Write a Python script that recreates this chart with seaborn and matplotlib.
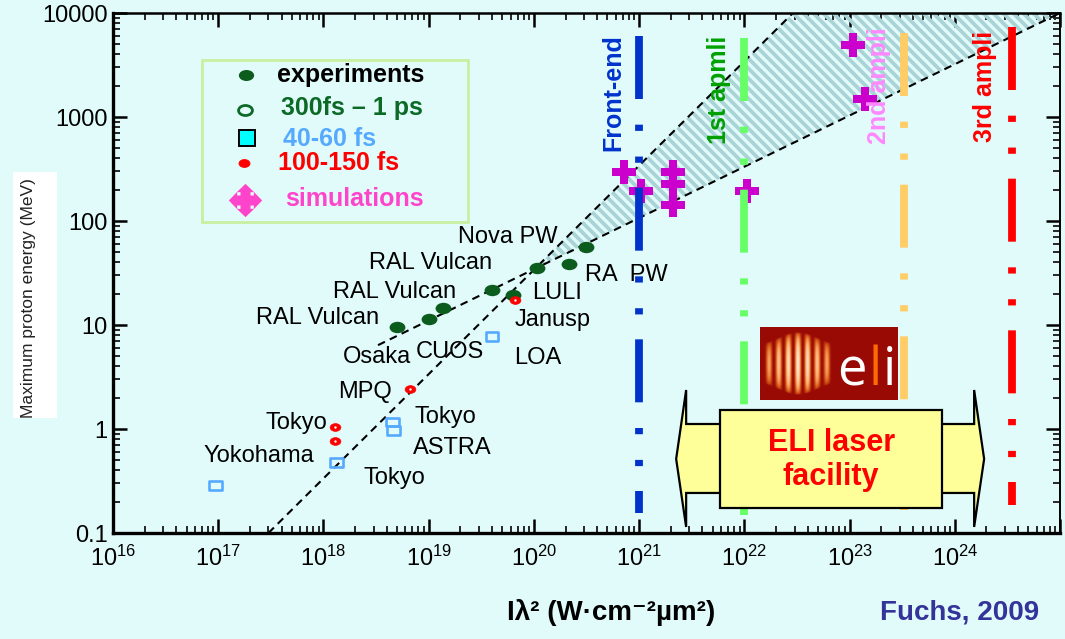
import numpy as np
import matplotlib
matplotlib.use("Agg")
import matplotlib.pyplot as plt
import seaborn as sns
from matplotlib.path import Path
from matplotlib.patches import Polygon, Rectangle
from matplotlib.collections import LineCollection
from matplotlib.colors import LinearSegmentedColormap
from matplotlib.ticker import FixedLocator, FixedFormatter, LogLocator, NullFormatter

# ---------------- data ----------------
# experiments (300 fs - 1 ps)
exp_I = [5.0e18, 1.01e19, 1.38e19, 4.0e19, 6.3e19, 1.07e20, 2.14e20, 3.16e20]
exp_E = [9.6, 11.5, 14.7, 21.7, 19.5, 35.0, 39.0, 56.0]
# 100-150 fs
fs100_I = [6.6e19, 6.6e18, 1.29e18, 1.29e18]
fs100_E = [17.4, 2.4, 1.05, 0.77]
# 40-60 fs
fs40_I = [4.0e19, 4.5e18, 4.6e18, 1.32e18, 9.5e16]
fs40_E = [7.7, 1.17, 0.96, 0.48, 0.285]
# simulations
sim_I = [7.2e20, 1.04e21, 2.1e21, 2.1e21, 2.1e21, 1.06e22, 1.07e23, 1.41e23]
sim_E = [296, 195, 296, 227, 143, 195, 4920, 1480]

# scaling lines (end points)
steep_I = [3.0e17, 2.9e22]
steep_E = [0.1, 1.0e4]
gentle_I = [3.3e18, 1.0e25]
gentle_E = [6.4, 1.0e4]

# laser stages
amp_labels = ["Front-end", "1st apmli", "2nd ampli", "3rd ampli"]
amp_I = [1e21, 1e22, 3.3e23, 3.5e24]
amp_top = [6000, 5750, 6400, 7300]
amp_bottom = [0.156, 0.149, 0.166, 0.186]
amp_line_colors = ["#0033CC", "#66FF66", "#FFCC66", "#FF0000"]
amp_text_colors = ["#0033CC", "#00A000", "#FF88FF", "#FF0000"]
amp_text_I = [5.66e20, 5.75e21, 1.9e23, 1.95e24]
amp_text_E = [1700, 1820, 2000, 1950]

# facility names
site_names = ["Nova PW", "RAL Vulcan", "RAL Vulcan", "RAL Vulcan", "RA  PW", "LULI",
              "Janusp", "Osaka", "CUOS", "LOA", "MPQ", "Tokyo", "ASTRA", "Tokyo",
              "Yokohama", "Tokyo"]
site_I = [1.9e19, 2.7e18, 1.23e18, 2.29e17, 3.07e20, 9.6e19, 6.6e19, 1.53e18,
          7.6e18, 6.5e19, 1.38e18, 7.3e18, 7.1e18, 2.84e17, 7.2e16, 2.4e18]
site_E = [70, 39.5, 20.7, 11.7, 30.3, 20.3, 11.2, 4.9, 5.5, 4.8, 2.27, 1.30,
          0.656, 1.14, 0.55, 0.338]

xticks = [1e16, 1e17, 1e18, 1e19, 1e20, 1e21, 1e22, 1e23, 1e24, 1e25]
xtick_labels = [r"$10^{16}$", r"$10^{17}$", r"$10^{18}$", r"$10^{19}$", r"$10^{20}$",
                r"$10^{21}$", r"$10^{22}$", r"$10^{23}$", r"$10^{24}$", ""]
yticks = [0.1, 1, 10, 100, 1000, 10000]
ytick_labels = ["0.1", "1", "10", "100", "1000", "10000"]

# ---------------- style ----------------
BG = "#E1FBFB"
sns.set_theme(style="ticks")
plt.rcParams["font.family"] = ["Liberation Sans", "DejaVu Sans"]
plt.rcParams["mathtext.default"] = "regular"
plt.rcParams["axes.unicode_minus"] = False

fig = plt.figure(figsize=(10.65, 6.39), dpi=100, facecolor=BG)
ax = fig.add_axes([113 / 1065, 1 - 533 / 639, 947 / 1065, 520 / 639])
ax.set_facecolor(BG)
ax.set_xscale("log")
ax.set_yscale("log")
ax.set_xlim(1e16, 1e25)
ax.set_ylim(0.1, 1e4)

# marker shapes
circ = Path.unit_circle()
ellipse = Path(circ.vertices * np.array([1.0, 0.72]), circ.codes)
wide_rect = Path([(-1, -0.68), (1, -0.68), (1, 0.68), (-1, 0.68), (-1, -0.68)],
                 [Path.MOVETO, Path.LINETO, Path.LINETO, Path.LINETO, Path.CLOSEPOLY])


def four_arrow(w=0.6, hw=1.04, hl=0.5):
    arm = np.array([(w / 2, w / 2), (w / 2, 1 - hl), (hw / 2, 1 - hl), (0, 1),
                    (-hw / 2, 1 - hl), (-w / 2, 1 - hl)])
    pts = []
    for k in range(4):
        a = k * np.pi / 2
        rot = np.array([[np.cos(a), -np.sin(a)], [np.sin(a), np.cos(a)]])
        pts.extend(arm @ rot.T)
    pts.append(pts[0])
    codes = [Path.MOVETO] + [Path.LINETO] * (len(pts) - 2) + [Path.CLOSEPOLY]
    return Path(pts, codes)


arrow4 = four_arrow()

# ---------------- hatched band between the two scalings ----------------
ls_a = np.polyfit(np.log10(steep_I), np.log10(steep_E), 1)
lg_a = np.polyfit(np.log10(gentle_I), np.log10(gentle_E), 1)
x_cross = (lg_a[1] - ls_a[1]) / (ls_a[0] - lg_a[0])
y_cross = ls_a[0] * x_cross + ls_a[1]
band = Polygon([(10 ** x_cross, 10 ** y_cross), (steep_I[1], steep_E[1]),
                (gentle_I[1], gentle_E[1])], closed=True, facecolor="none",
               edgecolor="none", transform=ax.transData)
ax.add_patch(band)
pos = ax.get_position()
W = pos.width * fig.get_figwidth() * fig.dpi
H = pos.height * fig.get_figheight() * fig.dpi
segs = [[(x0 / W, 1.0), ((x0 + H) / W, 0.0)] for x0 in np.arange(-H, W, 10.0)]
stripes = LineCollection(segs, transform=ax.transAxes, colors="#A9D3D6",
                         linewidths=2.7, zorder=1)
stripes.set_clip_path(band)
ax.add_collection(stripes)

# scaling lines
for xs, ys in [(steep_I, steep_E), (gentle_I, gentle_E)]:
    ax.plot(xs, ys, color="black", lw=1.5, dashes=(3.7, 2.6), zorder=2)

# simulations
sns.scatterplot(x=sim_I, y=sim_E, marker="P", s=300, color="#CC00CC",
                edgecolor="#CC00CC", linewidth=0, ax=ax, zorder=3)

# laser stage lines
for xi, y0, y1, c in zip(amp_I, amp_top, amp_bottom, amp_line_colors):
    ax.plot([xi, xi], [y0, y1], color=c, lw=5.6,
            dashes=(8.1, 3.3, 0.8, 3.3, 0.8, 3.2), dash_capstyle="butt", zorder=4)
for lab, xi, yi, c in zip(amp_labels, amp_text_I, amp_text_E, amp_text_colors):
    ax.text(xi, yi, lab, rotation=90, ha="center", va="center", color=c,
            fontsize=18, fontweight="bold", zorder=6)

# measured points
sns.scatterplot(x=exp_I, y=exp_E, marker=ellipse, s=130, color="#0C5C1E",
                edgecolor="#0C5C1E", linewidth=0, ax=ax, zorder=5)
sns.scatterplot(x=fs40_I, y=fs40_E, marker=wide_rect, s=85, color="#55AAFF",
                facecolors="none", edgecolor="#55AAFF", linewidth=1.9, ax=ax, zorder=5)
sns.scatterplot(x=fs100_I, y=fs100_E, marker=ellipse, s=60, color="#FF0000",
                edgecolor="#FF0000", linewidth=0.5, ax=ax, zorder=5)
sns.scatterplot(x=fs100_I, y=fs100_E, marker="o", s=3, color="white",
                edgecolor="white", linewidth=0, ax=ax, zorder=5.5)

for name, xi, yi in zip(site_names, site_I, site_E):
    ax.text(xi, yi, name, ha="left", va="center", fontsize=17, color="black", zorder=6)

# ---------------- axes cosmetics ----------------
ax.xaxis.set_major_locator(FixedLocator(xticks))
ax.xaxis.set_major_formatter(FixedFormatter(xtick_labels))
ax.yaxis.set_major_locator(FixedLocator(yticks))
ax.yaxis.set_major_formatter(FixedFormatter(ytick_labels))
ax.xaxis.set_minor_locator(LogLocator(base=10, subs=np.arange(2, 10), numticks=20))
ax.yaxis.set_minor_locator(LogLocator(base=10, subs=np.arange(2, 10), numticks=20))
ax.xaxis.set_minor_formatter(NullFormatter())
ax.yaxis.set_minor_formatter(NullFormatter())
ax.tick_params(which="major", direction="in", length=10, width=1.8, top=True,
               right=True, labelsize=17, colors="black")
ax.tick_params(which="minor", direction="in", length=5, width=1.4, top=True, right=True)
ax.tick_params(axis="x", which="major", pad=9)
ax.tick_params(axis="y", which="major", pad=4)
for side, lw in [("left", 2.4), ("bottom", 2.4), ("top", 1.8), ("right", 1.4)]:
    ax.spines[side].set_visible(True)
    ax.spines[side].set_linewidth(lw)
    ax.spines[side].set_color("black")
ax.set_xlabel("")
ax.set_ylabel("")
ax.grid(False)

# ---------------- legend panel ----------------
ax.add_patch(Rectangle((0.094, 0.598), 0.281, 0.3115, transform=ax.transAxes,
                       facecolor=BG, edgecolor="#C8F0A0", lw=2, zorder=7))
legend_rows = [
    dict(marker=ellipse, ms=11, mfc="#0C5C1E", mec="#0C5C1E", mew=0,
         text="experiments", tc="black", my=0.8808, ty=0.8808, mx=0.1404, tx=0.1732),
    dict(marker=ellipse, ms=10, mfc="none", mec="#0C6A26", mew=2.0,
         text="300fs \u2013 1 ps", tc="#0C6A26", my=0.8135, ty=0.8165, mx=0.1394, tx=0.1774),
    dict(marker="s", ms=11, mfc="#00FFFF", mec="black", mew=1.4,
         text="40-60 fs", tc="#55AAFF", my=0.7596, ty=0.7570, mx=0.1415, tx=0.1795),
    dict(marker=ellipse, ms=8, mfc="#FF0000", mec="#FF0000", mew=0.5,
         text="100-150 fs", tc="#FF0000", my=0.7115, ty=0.7110, mx=0.1383, tx=0.1742),
    dict(marker=arrow4, ms=24, mfc="#FF44CC", mec="#FF44CC", mew=0,
         text="simulations", tc="#FF44CC", my=0.6404, ty=0.6423, mx=0.1394, tx=0.1816),
]
for r in legend_rows:
    ax.plot([r["mx"]], [r["my"]], transform=ax.transAxes, ls="none", marker=r["marker"],
            ms=r["ms"], mfc=r["mfc"], mec=r["mec"], mew=r["mew"], zorder=8, clip_on=False)
    ax.text(r["tx"], r["ty"], r["text"], transform=ax.transAxes, ha="left", va="center",
            fontsize=18, fontweight="bold", color=r["tc"], zorder=8)

# ---------------- ELI facility arrow ----------------
arrow_log = [(21.352, -0.288), (21.447, 0.375), (21.447, 0.048), (24.184, 0.048),
             (24.184, 0.375), (24.279, -0.288), (24.184, -0.942), (24.184, -0.615),
             (21.447, -0.615), (21.447, -0.942)]
ax.add_patch(Polygon([(10 ** a, 10 ** b) for a, b in arrow_log], closed=True,
                     facecolor="#FFFF99", edgecolor="black", lw=1.6, zorder=9))
box_log = [(21.770, 0.183), (23.880, 0.183), (23.880, -0.760), (21.770, -0.760)]
ax.add_patch(Polygon([(10 ** a, 10 ** b) for a, b in box_log], closed=True,
                     facecolor="#FFFF99", edgecolor="black", lw=1.6, zorder=10))
ax.text(10 ** 22.825, 10 ** -0.298, "ELI laser\nfacility", ha="center", va="center",
        fontsize=22, fontweight="bold", color="#FF0000", linespacing=1.2, zorder=11)

# ---------------- ELI logo ----------------
logo = fig.add_axes([760 / 1065, 1 - 400 / 639, 138 / 1065, 73 / 639])
logo.add_patch(Rectangle((0, 0), 1, 1, facecolor="#990A05", edgecolor="none", zorder=0))
gx, gy = np.meshgrid(np.linspace(-1, 1, 200), np.linspace(-1, 1, 120))
env = np.exp(-(gx / 0.8) ** 2)
half_h = 0.55 + 0.45 * env
inside = np.sqrt(np.clip(1 - (gy / half_h) ** 2, 0, 1))
pulse = np.cos(np.pi * 3.5 * gx) ** 2 * inside * (0.45 + 0.55 * env)
pulse_cmap = LinearSegmentedColormap.from_list(
    "pulse", ["#990A05", "#D85A18", "#FFB070", "#FFEBD6"])
logo.imshow(pulse, extent=(0.03, 0.52, 0.07, 0.93), cmap=pulse_cmap, vmin=0, vmax=1,
            aspect="auto", interpolation="bilinear", zorder=1)
logo.text(0.665, 0.2, "e", color="white", fontsize=38, ha="center", va="baseline",
          family="Open Sans", zorder=2)
logo.text(0.835, 0.2, "l", color="#FF6A00", fontsize=38, ha="center", va="baseline",
          family="Open Sans", zorder=2)
logo.text(0.94, 0.2, "i", color="white", fontsize=38, ha="center", va="baseline",
          family="Open Sans", zorder=2)
logo.set_xlim(0, 1)
logo.set_ylim(0, 1)
logo.axis("off")

# ---------------- outer texts ----------------
fig.patches.append(Rectangle((13 / 1065, 1 - 418 / 639), 44 / 1065, 246 / 639,
                             transform=fig.transFigure, facecolor="white",
                             edgecolor="none", zorder=0))
fig.text(29 / 1065, 1 - 298 / 639, "Maximum proton energy (MeV)", rotation=90,
         ha="center", va="center", fontsize=12.5, color="#222222")
fig.text(611 / 1065, 1 - 613 / 639, "I\u03bb\u00b2 (W\u00b7cm\u207b\u00b2\u00b5m\u00b2)",
         ha="center", va="center", fontsize=20, fontweight="bold", color="black")
fig.text(960 / 1065, 1 - 613 / 639, "Fuchs, 2009", ha="center", va="center",
         fontsize=20, fontweight="bold", color="#333399")

fig.savefig("out.png", dpi=100, facecolor=BG)
